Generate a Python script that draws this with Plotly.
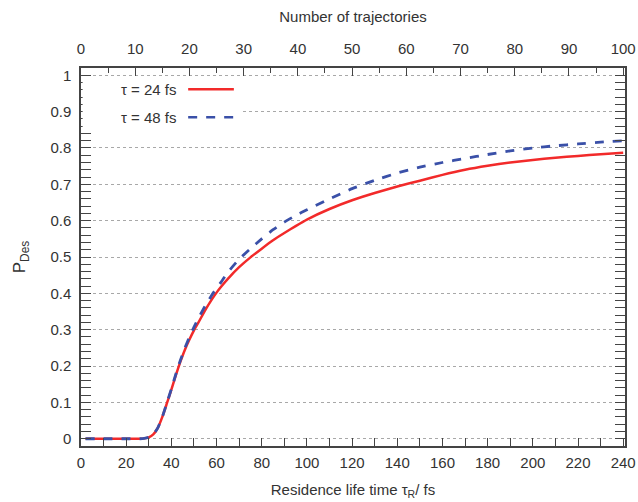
import plotly.graph_objects as go

# residence life time (fs)
tau_r = [2, 10, 20, 26, 28, 30, 32, 34, 36, 38, 40, 42, 44, 46, 48, 50, 52, 55, 58, 60,
         62, 65, 70, 75, 80, 85, 90, 95, 100, 110, 120, 130, 140, 150, 160, 170, 180, 190,
         200, 210, 220, 230, 240]

p_des_24 = [0, 0, 0, 0, 0.001, 0.004, 0.012, 0.03, 0.06, 0.097, 0.135, 0.175, 0.212, 0.245,
            0.273, 0.298, 0.32, 0.354, 0.384, 0.402, 0.418, 0.44, 0.472, 0.499, 0.523, 0.546,
            0.566, 0.585, 0.603, 0.632, 0.656, 0.676, 0.694, 0.71, 0.726, 0.74, 0.751, 0.76,
            0.767, 0.773, 0.778, 0.783, 0.787]

p_des_48 = [0, 0, 0, 0, 0.001, 0.004, 0.012, 0.03, 0.06, 0.098, 0.137, 0.178, 0.216, 0.25,
            0.28, 0.307, 0.332, 0.366, 0.396, 0.414, 0.431, 0.458, 0.494, 0.523, 0.55, 0.575,
            0.596, 0.614, 0.63, 0.66, 0.688, 0.711, 0.731, 0.747, 0.76, 0.771, 0.782, 0.792,
            0.8, 0.806, 0.811, 0.816, 0.82]

series_names = ["τ = 24 fs", "τ = 48 fs"]
x_ticks = list(range(0, 241, 20))
top_ticks = list(range(0, 101, 10))
y_ticks = [round(i * 0.1, 1) for i in range(11)]

RED = "#f22a2a"
BLUE = "#3a50a8"
AX = "#444444"
FONT = "Liberation Sans, Arial, sans-serif"

fig = go.Figure()
fig.add_trace(go.Scatter(x=tau_r, y=p_des_24, mode="lines", name=series_names[0],
                         line=dict(color=RED, width=2.5, shape="spline", smoothing=0.5)))
fig.add_trace(go.Scatter(x=tau_r, y=p_des_48, mode="lines", name=series_names[1],
                         line=dict(color=BLUE, width=2.8, dash="dash", shape="spline", smoothing=0.5)))
# invisible trace to activate top axis
fig.add_trace(go.Scatter(x=[0, 100], y=[None, None], xaxis="x2", showlegend=False,
                         hoverinfo="skip"))

xmax = 240.8
fig.update_layout(
    width=638, height=502,
    margin=dict(l=81, r=13, t=68, b=56),
    paper_bgcolor="white", plot_bgcolor="white",
    showlegend=False,
    font=dict(family=FONT, size=15, color="#333333"),
    xaxis=dict(range=[0, xmax], tickvals=x_ticks, ticks="inside", ticklen=8,
               tickcolor=AX, showline=True, linecolor=AX, linewidth=1.5,
               showgrid=False, zeroline=False, automargin=False, ticklabelstandoff=2,
               minor=dict(dtick=10, ticks="inside", ticklen=8, tickcolor=AX),
               title=dict(text="Residence life time τ<sub>R</sub>/ fs", standoff=15,
                          font=dict(size=15))),
    xaxis2=dict(range=[0, xmax * 100 / 240], overlaying="x", side="top",
                tickvals=top_ticks, ticks="inside", ticklen=8, tickcolor=AX,
                showline=True, linecolor=AX, linewidth=1.5, showgrid=False,
                zeroline=False, automargin=False, ticklabelstandoff=6,
                minor=dict(dtick=5, ticks="inside", ticklen=5, tickcolor=AX),
                title=dict(text="Number of trajectories", standoff=14, font=dict(size=15))),
    yaxis=dict(range=[-0.02, 1.02], tickvals=y_ticks, ticktext=[f"{v:g}" for v in y_ticks],
               ticks="inside", ticklen=10, tickcolor=AX, showline=True, linecolor=AX,
               linewidth=1.5, mirror="allticks", zeroline=False, automargin=False,
               ticklabelstandoff=5,
               showgrid=True, gridcolor="#a8a8a8", griddash="dot", gridwidth=1,
               minor=dict(dtick=0.02, ticks="inside", ticklen=5, tickcolor=AX),
               title=dict(text="P<sub>Des</sub>", standoff=20, font=dict(size=17))),
)

# gnuplot-style key: text followed by line sample, on white background
fig.add_shape(type="rect", xref="paper", yref="paper", x0=0.003, x1=0.297, y0=0.83, y1=0.965,
              fillcolor="white", line=dict(width=0), layer="above")
key_y = [0.944, 0.870]
key_colors = [RED, BLUE]
key_dash = ["solid", "dash"]
for name, ky, col, dsh in zip(series_names, key_y, key_colors, key_dash):
    fig.add_annotation(xref="paper", yref="paper", x=0.18, y=ky, text=name,
                       showarrow=False, xanchor="right", yanchor="middle",
                       font=dict(size=15, color="#333333"))
    fig.add_shape(type="line", xref="paper", yref="paper", x0=0.197, x1=0.281, y0=ky, y1=ky,
                  line=dict(color=col, width=2.5, dash=dsh), layer="above")

fig.write_html("out.html", config={"displayModeBar": False},
               post_script="document.body.style.margin='0px';document.body.style.overflow='hidden';")
